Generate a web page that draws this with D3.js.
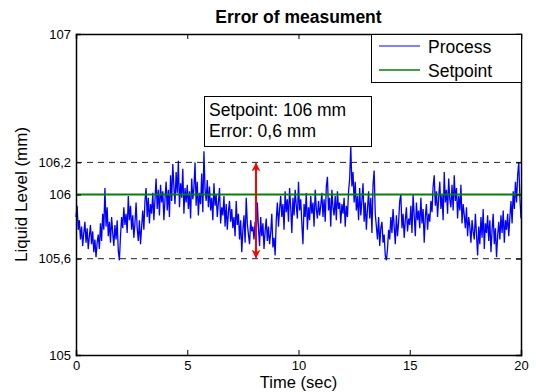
<!DOCTYPE html>
<html><head><meta charset="utf-8">
<script src="https://cdn.jsdelivr.net/npm/d3@7"></script>
<style>body{margin:0;background:#fff}svg{display:block;font-family:"Liberation Sans",Arial,sans-serif}</style>
</head><body>
<svg id="c" width="536" height="392"></svg>
<script>
const title = "Error of measument";
const xLabel = "Time (sec)";
const yLabel = "Liquid Level (mm)";
const xTicks = [0, 5, 10, 15, 20];
const yTicks = [105, 105.6, 106, 106.2, 107];
const yTickLabels = ["105", "105,6", "106", "106,2", "107"];
const dashedLevels = [106.2, 105.6];
const setpoint = 106;
const timeStep = 0.05;
const seriesNames = ["Process", "Setpoint"];
const annotation = ["Setpoint: 106 mm", "Error: 0,6 mm"];
const arrowTime = 8.09;
const arrowRange = [105.6, 106.2];
const process = [
105.86,105.93,105.78,105.84,105.72,105.80,105.68,105.76,105.83,105.70,105.79,105.66,105.74,105.81,105.69,105.77,105.64,105.72,105.61,105.70,
105.75,105.66,105.82,105.71,105.88,105.78,106.04,105.80,105.92,105.74,105.83,105.70,105.86,105.76,105.68,105.81,105.72,105.84,105.65,105.59,
105.74,105.86,105.79,105.92,105.81,105.88,105.76,105.99,105.84,105.93,105.78,105.87,105.73,105.82,105.95,105.79,105.71,105.84,105.69,105.80,
105.90,105.78,105.96,106.04,105.86,105.98,105.82,105.94,105.88,106.01,105.84,105.97,106.10,105.91,106.03,105.87,106.06,105.95,106.02,105.84,
105.97,106.08,105.90,106.03,105.86,106.12,105.96,106.19,106.05,105.94,106.14,106.01,106.21,105.92,106.07,105.98,106.16,105.88,106.04,105.95,
106.06,105.91,106.02,105.85,106.10,105.97,106.04,106.20,105.93,106.08,105.87,106.01,105.94,106.13,105.89,106.27,106.03,105.96,106.09,105.92,
106.05,105.90,105.98,105.84,106.07,105.93,106.00,105.86,105.95,106.04,105.82,105.92,105.87,105.99,105.80,105.94,105.78,105.89,105.96,105.83,
105.91,105.79,105.86,105.74,105.96,105.81,105.88,105.72,105.84,105.64,105.78,105.87,105.70,105.98,105.82,105.75,105.69,105.84,105.77,105.80,
105.72,105.83,105.76,105.95,105.79,105.68,105.86,105.74,105.82,105.66,105.77,105.85,105.71,105.80,105.69,105.76,105.88,105.67,105.73,105.62,
105.84,105.95,105.80,105.91,105.99,105.86,105.94,105.78,106.02,105.89,105.97,105.83,106.04,105.92,105.76,105.98,105.87,106.03,105.93,105.85,
106.08,105.90,105.97,105.82,105.69,105.94,105.86,106.01,105.78,105.92,105.84,105.99,105.88,105.95,105.80,106.03,105.91,105.85,105.96,105.87,
105.93,106.01,105.86,105.97,105.83,106.05,106.11,105.90,105.98,105.80,106.03,105.92,105.87,105.99,105.84,106.02,105.91,105.95,105.82,105.94,
105.88,105.98,105.80,105.93,105.86,106.02,106.10,106.30,106.05,106.14,105.95,106.08,105.90,105.99,105.84,106.04,105.87,105.96,106.07,105.83,
105.95,105.78,105.91,106.02,105.85,105.98,105.76,106.06,106.15,105.88,105.80,105.72,105.86,105.68,105.79,105.83,105.70,105.75,105.62,105.59,
105.66,105.78,105.72,105.86,105.76,105.91,105.80,105.69,105.87,105.74,105.83,105.96,106.00,105.79,105.88,105.73,105.84,105.92,105.77,105.85,
105.81,105.93,105.76,106.00,105.87,105.74,105.95,105.84,105.90,105.79,105.98,105.82,105.91,105.70,105.86,105.94,105.78,105.88,105.83,105.96,
105.89,106.05,106.12,105.93,106.02,105.86,105.98,106.08,105.91,106.00,105.84,106.14,105.95,106.03,105.88,106.10,105.97,105.92,106.06,105.90,
106.12,105.96,106.04,105.85,105.99,105.90,106.06,105.82,105.94,105.87,105.79,105.92,105.74,105.86,105.80,105.70,105.84,105.77,105.72,105.88,
105.75,105.62,105.80,105.69,105.86,105.73,105.91,105.66,105.82,105.76,105.87,105.71,105.84,105.64,105.78,105.88,105.69,105.79,105.61,105.74,
105.83,105.72,105.87,105.76,105.90,105.70,105.84,105.78,105.88,105.74,105.86,105.96,105.82,106.02,105.91,106.08,105.95,106.12,106.20,105.98,
105.85
];

const W = 536, H = 392;
const m = {l: 76, r: 15, t: 34, b: 37};
const svg = d3.select("#c");
const x = d3.scaleLinear().domain([0, 20]).range([m.l, W - m.r]);
const y = d3.scaleLinear().domain([105, 107]).range([H - m.b, m.t]);

// dashed levels
svg.selectAll(".lvl").data(dashedLevels).join("line")
  .attr("x1", x(0)).attr("x2", x(20))
  .attr("y1", d => y(d)).attr("y2", d => y(d))
  .attr("stroke", "#222").attr("stroke-width", 1).attr("stroke-dasharray", "6,5");

// process
const pts = process.map((v, i) => [i * timeStep, v]);
svg.append("path").datum(pts)
  .attr("fill", "none").attr("stroke", "#0000ff").attr("stroke-width", 1.3)
  .attr("d", d3.line().x(d => x(d[0])).y(d => y(d[1])));

// setpoint
svg.append("path").datum([[0, setpoint], [20, setpoint]])
  .attr("fill", "none").attr("stroke", "#0a7d0a").attr("stroke-width", 2)
  .attr("d", d3.line().x(d => x(d[0])).y(d => y(d[1])));

// red arrow
const defs = svg.append("defs");
defs.append("marker").attr("id", "ah").attr("viewBox", "0 0 10 10")
  .attr("refX", 9).attr("refY", 5).attr("markerWidth", 4.5).attr("markerHeight", 4.5)
  .attr("orient", "auto-start-reverse").attr("markerUnits", "strokeWidth")
  .append("path").attr("d", "M0,0 L10,5 L0,10 L3,5 Z").attr("fill", "#ff0000");
svg.append("line")
  .attr("x1", x(arrowTime)).attr("x2", x(arrowTime))
  .attr("y1", y(arrowRange[1]) + 1).attr("y2", y(arrowRange[0]) - 1)
  .attr("stroke", "#ff0000").attr("stroke-width", 2)
  .attr("marker-start", "url(#ah)").attr("marker-end", "url(#ah)");

// axes
const xAxB = d3.axisBottom(x).tickValues(xTicks).tickSize(-5).tickPadding(6).tickFormat(d3.format("d"));
const xAxT = d3.axisTop(x).tickValues(xTicks).tickSize(-5).tickFormat("");
const yAxL = d3.axisLeft(y).tickValues(yTicks).tickSize(-5).tickPadding(5).tickFormat((d, i) => yTickLabels[i]);
const yAxR = d3.axisRight(y).tickValues(yTicks).tickSize(-5).tickFormat("");
function style(g) {
  g.select(".domain").attr("stroke", "#000").attr("stroke-width", 1.5);
  g.selectAll(".tick line").attr("stroke", "#000");
  g.selectAll("text").attr("font-size", 13).attr("fill", "#000").attr("font-family", "Liberation Sans, Arial, sans-serif");
}
svg.append("g").attr("transform", `translate(0,${H - m.b})`).call(xAxB).call(style);
svg.append("g").attr("transform", `translate(0,${m.t})`).call(xAxT).call(style);
svg.append("g").attr("transform", `translate(${m.l},0)`).call(yAxL).call(style);
svg.append("g").attr("transform", `translate(${W - m.r},0)`).call(yAxR).call(style);

// annotation box
const ab = svg.append("g");
ab.append("rect").attr("x", 204.5).attr("y", 96.5).attr("width", 167).attr("height", 50)
  .attr("fill", "#fff").attr("stroke", "#000").attr("stroke-width", 1);
ab.selectAll("text").data(annotation).join("text")
  .attr("x", 209).attr("y", (d, i) => 116 + i * 21)
  .attr("font-size", 17.5).attr("fill", "#000").text(d => d);

// legend
const lg = svg.append("g");
lg.append("rect").attr("x", 371.5).attr("y", 34.5).attr("width", 150).attr("height", 48)
  .attr("fill", "#fff").attr("stroke", "#000").attr("stroke-width", 1);
const lcol = ["#0000ff", "#0a7d0a"];
seriesNames.forEach((n, i) => {
  const yy = 46 + i * 24;
  lg.append("line").attr("x1", 379).attr("x2", 420).attr("y1", yy).attr("y2", yy)
    .attr("stroke", lcol[i]).attr("stroke-width", i ? 1.5 : 1);
  lg.append("text").attr("x", 428).attr("y", yy + 6.5).attr("font-size", 17.5).attr("fill", "#000").text(n);
});

// titles
svg.append("text").attr("x", (m.l + W - m.r) / 2).attr("y", 23).attr("text-anchor", "middle")
  .attr("font-size", 17.5).attr("font-weight", "bold").text(title);
svg.append("text").attr("x", (m.l + W - m.r) / 2).attr("y", 388.2).attr("text-anchor", "middle")
  .attr("font-size", 16.5).text(xLabel);
svg.append("text").attr("transform", `translate(27,${(m.t + H - m.b) / 2}) rotate(-90)`)
  .attr("text-anchor", "middle").attr("font-size", 17).text(yLabel);
</script>
</body></html>
